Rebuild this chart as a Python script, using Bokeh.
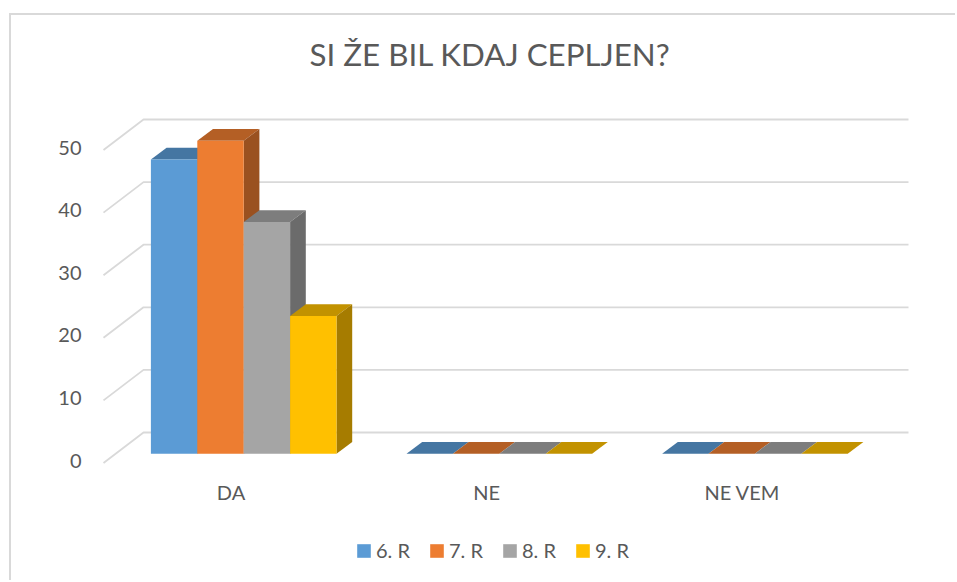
from bokeh.plotting import figure
from bokeh.embed import file_html
from bokeh.resources import INLINE
from bokeh.models import (LinearAxis, Range1d, FixedTicker, Legend, LegendItem)

TITLE = "SI ŽE BIL KDAJ CEPLJEN?"
categories = ["DA", "NE", "NE VEM"]
series_names = ["6. R", "7. R", "8. R", "9. R"]
s6 = [47, 0, 0]
s7 = [50, 0, 0]
s8 = [37, 0, 0]
s9 = [22, 0, 0]
y_ticks = [0, 10, 20, 30, 40, 50]
front_colors = ["#5B9BD5", "#ED7D31", "#A5A5A5", "#FFC000"]
top_colors = ["#4576A2", "#B45F25", "#7D7D7D", "#C29200"]
side_colors = ["#3B658A", "#9A5120", "#6B6B6B", "#A67C00"]

FONT = "Lato"
TEXT = "#595959"
GRID = "#D9D9D9"

# page-pixel layout of the frame
ML, MT = 9, 13                # figure offset on the page
FL, FR, FT, FB = 90, 935, 76, 572
AXIS_Y = 465                  # page y of the category axis inside the frame
UX, UY = 255.6, 6.26          # pixels per category / per value
X0, Y0 = 243.2, 453.2         # bar plane origin in page pixels

p = figure(width=957 - ML - 2, height=582 - MT - 2, output_backend="svg", toolbar_location=None,
           x_axis_location=None, y_axis_location=None,
           x_range=Range1d((FL - X0) / UX, (FR - X0) / UX),
           y_range=Range1d((Y0 - FB) / UY, (Y0 - FT) / UY),
           frame_width=FR - FL, frame_height=FB - FT,
           min_border_left=FL - ML - 2, min_border_right=957 - FR - 2,
           min_border_top=FT - MT - 2, min_border_bottom=582 - FB - 2,
           margin=(MT, 0, 0, ML),
           styles={"border-top": "2px solid #D9D9D9", "border-left": "2px solid #D9D9D9"})
p.grid.visible = False
p.outline_line_color = None

p.title.text = TITLE
p.title.text_font = FONT
p.title.text_font_size = "31.3px"
p.title.text_font_style = "normal"
p.title.text_color = TEXT
p.title.align = "left"
p.title.offset = 219
p.title.standoff = 8

# extra ranges: the axes sit on the chart's front floor edge
p.extra_y_ranges = {"ticks": Range1d((460 - FB) / UY, (460 - FT) / UY)}
p.extra_x_ranges = {"cats": Range1d((FL - 230.5) / UX, (FR - 230.5) / UX)}

yaxis = LinearAxis(y_range_name="ticks", ticker=FixedTicker(ticks=y_ticks))
xaxis = LinearAxis(x_range_name="cats", ticker=FixedTicker(ticks=list(range(len(categories)))),
                   major_label_overrides={i: c for i, c in enumerate(categories)},
                   fixed_location=(Y0 - AXIS_Y) / UY)
for ax, size, standoff in ((yaxis, "20px", 3), (xaxis, "20px", 8)):
    ax.axis_line_color = None
    ax.major_tick_line_color = None
    ax.minor_tick_line_color = None
    ax.major_label_text_font = FONT
    ax.major_label_text_font_size = size
    ax.major_label_text_color = TEXT
    ax.major_label_standoff = standoff
p.add_layout(yaxis, "left")
p.add_layout(xaxis, "below")

# 3D walls: back gridlines and floor-side diagonals
BACK_DX, BACK_DY = (143 - X0) / UX, (Y0 - 432) / UY
FRONT_DX, FRONT_DY = (103 - X0) / UX, (Y0 - 462.5) / UY
END_X = (908 - X0) / UX
for v in y_ticks:
    p.line([FRONT_DX, BACK_DX, END_X], [v + FRONT_DY, v + BACK_DY, v + BACK_DY],
           line_color=GRID, line_width=1.8)

# bars
BW = 46.4 / UX
DX, DY = 15.7 / UX, 11.8 / UY
all_series = [s6, s7, s8, s9]
legend_items = []
for g in range(len(categories)):
    for i, vals in enumerate(all_series):
        v = vals[g]
        x0 = g + (i - 2) * BW
        x1 = x0 + BW
        p.patch([x0, x1, x1 + DX, x0 + DX], [v, v, v + DY, v + DY],
                fill_color=top_colors[i], line_color=None)
        p.patch([x1, x1 + DX, x1 + DX, x1], [0, DY, v + DY, v],
                fill_color=side_colors[i], line_color=None)
        r = p.quad(left=x0, right=x1, bottom=0, top=v,
                   fill_color=front_colors[i], line_color=None)
        if g == 0:
            legend_items.append(LegendItem(label=series_names[i], renderers=[r]))

legend = Legend(items=legend_items, orientation="horizontal",
                location=(355 - FL, FB - 562), margin=0, padding=0, spacing=18,
                glyph_width=17, glyph_height=17, label_standoff=4,
                label_text_font=FONT, label_text_font_size="20px",
                label_text_color=TEXT, border_line_color=None,
                background_fill_alpha=0)
p.add_layout(legend)

open("out.html", "w").write(file_html(p, INLINE))
